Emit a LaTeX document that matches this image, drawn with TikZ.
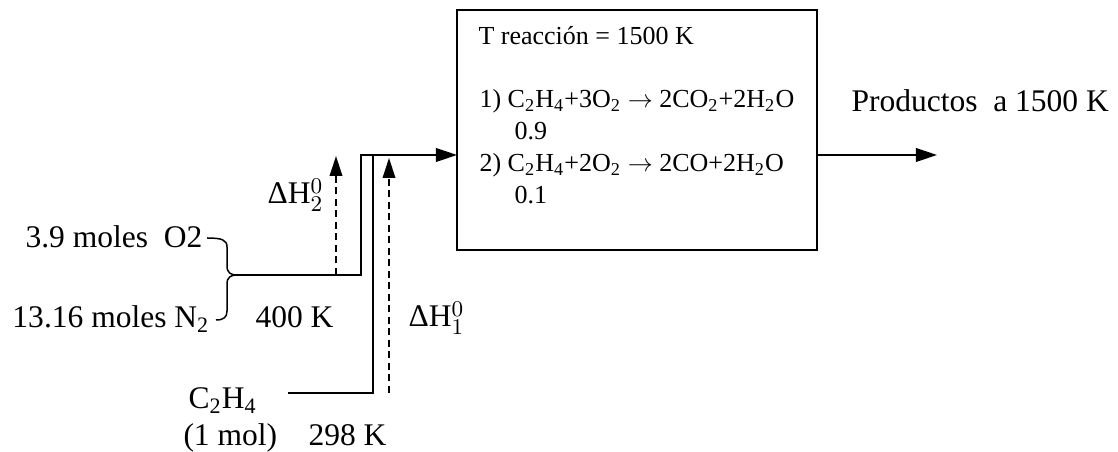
\documentclass[tikz,border=0pt]{standalone}
\usepackage{fontspec}
\setmainfont{Liberation Serif}
\usetikzlibrary{
    arrows.meta,
    positioning
}
\newcommand{\enthalpy}[1]{ΔH$^{0}_{#1}$}

\begin{document}
\begin{tikzpicture}[
    x=0.4pt,
    y=0.4pt,
    streamtext/.style={
        font=\fontsize{12.6}{15}\selectfont,
        inner sep=0pt,
        anchor=base west
    },
    boxtext/.style={
        font=\fontsize{10.4}{12.8}\selectfont,
        inner sep=0pt,
        anchor=base west
    },
    reactor/.style={
        draw,
        line width=0.8pt,
        minimum width=144pt,
        minimum height=96pt,
        inner sep=0pt
    },
    stream/.style={
        line width=0.8pt
    },
    flow/.style={
        -{Triangle[length=8.5pt,width=5.5pt]},
        line width=0.8pt
    },
    heat/.style={
        -{Triangle[length=8pt,width=5pt]},
        line width=0.8pt,
        dash pattern=on 2.8pt off 1.8pt
    },
    bracket/.style={
        line width=0.6pt
    }
]
\useasboundingbox (0,0) rectangle (1118,452);
%
\node[reactor] (reactor) at (637,322) {};
%
\node[boxtext] (treac) at (478,407) {T reacción = 1500 K};
\node[boxtext] (eqone) at (479,344) {1) C\textsubscript{2}H\textsubscript{4}+3O\textsubscript{2} $\rightarrow$ 2CO\textsubscript{2}+2H\textsubscript{2}O};
\node[boxtext] (xone) at (514,312) {0.9};
\node[boxtext] (eqtwo) at (479,280) {2) C\textsubscript{2}H\textsubscript{4}+2O\textsubscript{2} $\rightarrow$ 2CO+2H\textsubscript{2}O};
\node[boxtext] (xtwo) at (514,248) {0.1};
%
\node[streamtext] (oxygen) at (25,204) {3.9 moles\ \ O2};
\node[streamtext] (nitrogen) at (12,124) {13.16 moles N\textsubscript{2}};
\node[streamtext] (tair) at (255,124) {400 K};
\node[streamtext] (ethylene) at (188,43) {C\textsubscript{2}H\textsubscript{4}};
\node[streamtext] (onemol) at (183,6) {(1 mol)};
\node[streamtext] (tfuel) at (308,6) {298 K};
\node[streamtext] (dhtwo) at (267,248) {\enthalpy{2}};
\node[streamtext] (dhone) at (408,125) {\enthalpy{1}};
\node[streamtext] (products) at (851,340) {Productos\ \ a 1500 K};
%
\coordinate (mix) at (237,177);
\coordinate (fuel) at (288,59);
\coordinate (inlet) at (457,297);
\coordinate (outlet) at (937,297);
%
\draw[bracket]
    (207,214)
    .. controls (222,214) and (227,212) .. (227,205)
    -- (227,186)
    .. controls (227,179) and (231,177) .. (mix)
    .. controls (231,177) and (227,175) .. (227,168)
    -- (227,141)
    .. controls (227,135) and (224,132) .. (216,132);
%
\draw[flow]
    (mix)
    -|
    (361,297)
    --
    (inlet);
%
\draw[stream]
    (fuel)
    -|
    (373,297);
%
\draw[heat]
    (336,177)
    --
    (336,296);
%
\draw[heat]
    (389,59)
    --
    (389,294);
%
\draw[flow]
    (reactor.east |- inlet)
    --
    (outlet);
%
\end{tikzpicture}
\end{document}
